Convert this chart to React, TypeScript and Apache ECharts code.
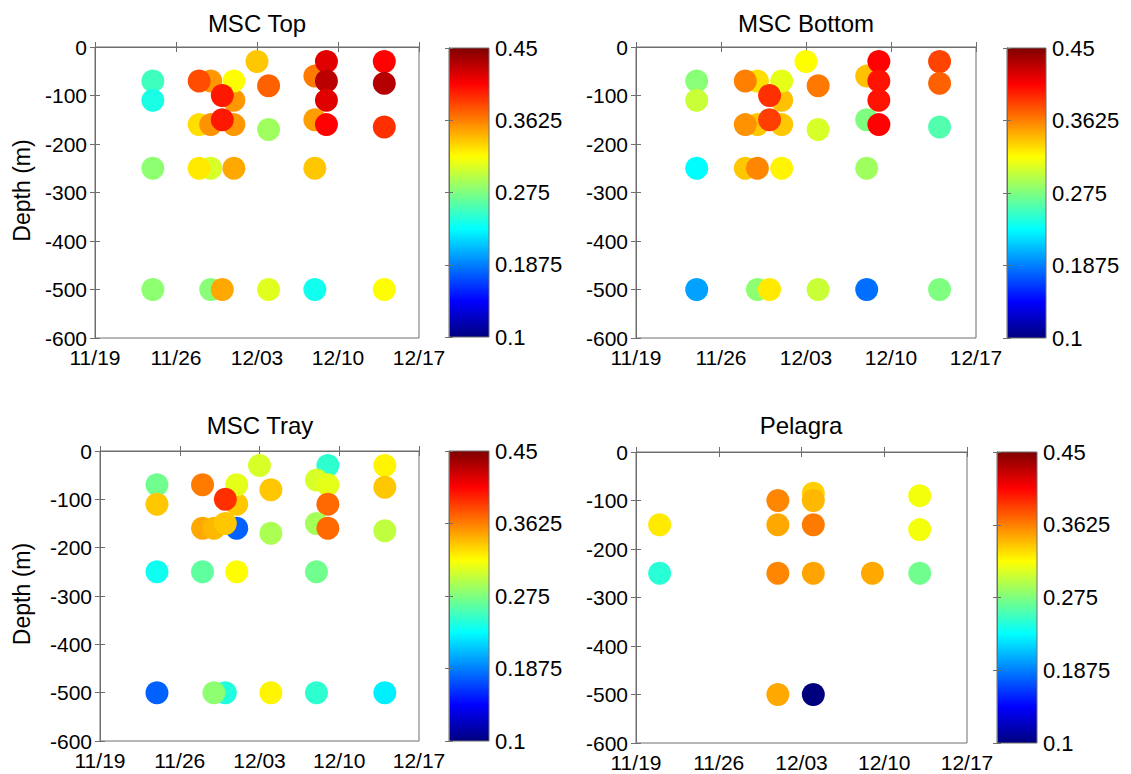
import React, { useEffect, useRef } from 'react';
import * as echarts from 'echarts';

// ---------- data ----------
const xTickLabels = ['11/19', '11/26', '12/03', '12/10', '12/17'];
const cbTickLabels = ['0.1', '0.1875', '0.275', '0.3625', '0.45'];
const panelTitles = ['MSC Top', 'MSC Bottom', 'MSC Tray', 'Pelagra'];
const yAxisName = 'Depth (m)';
const colorMin = 0.1;
const colorMax = 0.45;

const topDates = ['11/24', '11/24', '11/24', '11/24', '11/29', '11/28', '12/01', '12/01', '11/30', '11/28', '11/29', '12/01', '11/30', '11/29', '11/28', '12/01', '11/29', '11/30', '12/03', '12/04', '12/04', '12/04', '12/08', '12/09', '12/09', '12/09', '12/08', '12/09', '12/08', '12/08', '12/14', '12/14', '12/14', '12/14'];
const topDepths = [-70, -110, -250, -500, -70, -70, -110, -70, -100, -160, -160, -160, -150, -250, -250, -250, -500, -500, -30, -80, -170, -500, -60, -30, -70, -110, -150, -160, -250, -500, -30, -75, -165, -500];
const topValues = [0.253, 0.24, 0.28, 0.28, 0.354, 0.38, 0.354, 0.319, 0.398, 0.33, 0.356, 0.354, 0.398, 0.305, 0.326, 0.348, 0.278, 0.348, 0.338, 0.373, 0.286, 0.308, 0.364, 0.417, 0.43, 0.417, 0.352, 0.406, 0.338, 0.237, 0.406, 0.432, 0.39, 0.319];

const bottomDates = ['11/24', '11/24', '11/24', '11/24', '11/29', '11/28', '12/01', '12/01', '11/30', '11/29', '11/28', '12/01', '11/30', '11/28', '11/29', '12/01', '11/29', '11/30', '12/03', '12/04', '12/04', '12/04', '12/08', '12/08', '12/08', '12/08', '12/09', '12/09', '12/09', '12/09', '12/14', '12/14', '12/14', '12/14'];
const bottomDepths = [-70, -110, -250, -500, -70, -70, -110, -70, -100, -160, -160, -160, -150, -250, -250, -250, -500, -500, -30, -80, -170, -500, -60, -150, -250, -500, -30, -70, -110, -160, -30, -75, -165, -500];
const bottomValues = [0.278, 0.3, 0.231, 0.199, 0.33, 0.362, 0.34, 0.31, 0.39, 0.338, 0.356, 0.338, 0.385, 0.338, 0.36, 0.322, 0.28, 0.326, 0.319, 0.365, 0.305, 0.3, 0.34, 0.275, 0.286, 0.182, 0.406, 0.4, 0.4, 0.406, 0.383, 0.373, 0.259, 0.275];

const trayDates = ['11/24', '11/24', '11/24', '11/24', '11/28', '12/01', '12/01', '11/30', '12/01', '11/28', '11/29', '11/30', '11/28', '12/01', '11/30', '11/29', '12/03', '12/04', '12/04', '12/04', '12/09', '12/08', '12/09', '12/09', '12/08', '12/09', '12/08', '12/08', '12/14', '12/14', '12/14', '12/14'];
const trayDepths = [-70, -110, -250, -500, -70, -110, -70, -100, -160, -160, -160, -150, -250, -250, -500, -500, -30, -80, -170, -500, -30, -60, -70, -110, -150, -160, -250, -500, -30, -75, -165, -500];
const trayValues = [0.27, 0.338, 0.236, 0.177, 0.364, 0.338, 0.31, 0.39, 0.177, 0.348, 0.343, 0.338, 0.264, 0.319, 0.242, 0.28, 0.305, 0.338, 0.29, 0.322, 0.247, 0.305, 0.31, 0.37, 0.288, 0.37, 0.27, 0.247, 0.322, 0.338, 0.297, 0.226];

const pelagraDates = ['11/21', '11/21', '12/01', '12/01', '12/01', '12/01', '12/04', '12/04', '12/04', '12/04', '12/04', '12/09', '12/13', '12/13', '12/13'];
const pelagraDepths = [-150, -250, -100, -150, -250, -500, -85, -100, -150, -250, -500, -250, -90, -160, -250];
const pelagraValues = [0.326, 0.245, 0.36, 0.348, 0.36, 0.348, 0.335, 0.343, 0.364, 0.35, 0.1, 0.348, 0.315, 0.315, 0.27];

// jet colormap control points (evenly spaced)
const jetColors = ['#00007F', '#0000FF', '#007FFF', '#00FFFF', '#7FFF7F', '#FFFF00', '#FF7F00', '#FF0000', '#7F0000'];

// ---------- helpers ----------
function dayOffset(d: string): number {
  const [m, dd] = d.split('/').map(Number);
  return m === 11 ? dd - 19 : 11 + dd;
}

function buildData(dates: string[], depths: number[], values: number[]) {
  return dates.map((d, i) => [dayOffset(d), depths[i], values[i]]);
}

const FONT = 'Liberation Sans, Arial, Helvetica, sans-serif';
const AX = '#6e6e6e';
const TXT = '#000000';

const layout = [
  { grid: { left: 95, top: 47, width: 324, height: 291 }, cb: { left: 449, top: 48, width: 40, height: 289 }, title: [257, 23] },
  { grid: { left: 636, top: 47, width: 340, height: 291 }, cb: { left: 1007, top: 48, width: 39, height: 290 }, title: [806, 23] },
  { grid: { left: 100, top: 451, width: 319, height: 290 }, cb: { left: 449, top: 451, width: 40, height: 290 }, title: [260, 425] },
  { grid: { left: 636, top: 452, width: 331, height: 291 }, cb: { left: 997, top: 452, width: 40, height: 291 }, title: [801, 425] },
];

const App: React.FC = () => {
  const ref = useRef<HTMLDivElement>(null);

  useEffect(() => {
    if (!ref.current) return;
    const chart = echarts.init(ref.current, undefined, { renderer: 'svg' });

    const datasets = [
      buildData(topDates, topDepths, topValues),
      buildData(bottomDates, bottomDepths, bottomValues),
      buildData(trayDates, trayDepths, trayValues),
      buildData(pelagraDates, pelagraDepths, pelagraValues),
    ];

    const grids: any[] = [];
    const xAxes: any[] = [];
    const yAxes: any[] = [];
    const series: any[] = [];
    const graphics: any[] = [];

    const tick = { show: true, inside: true, length: 5, lineStyle: { color: AX, width: 1 } };
    const line = { show: true, lineStyle: { color: AX, width: 1 } };

    const gradStops = jetColors.map((c, i) => ({ offset: i / (jetColors.length - 1), color: c }));

    layout.forEach((L, i) => {
      grids.push({ ...L.grid, show: true, borderColor: AX, borderWidth: 1, backgroundColor: '#fff', containLabel: false, outerBoundsMode: 'none' });
      grids.push({
        ...L.cb, show: true, borderColor: AX, borderWidth: 1, containLabel: false, outerBoundsMode: 'none',
        backgroundColor: new echarts.graphic.LinearGradient(0, 1, 0, 0, gradStops),
      });
      const gMain = 2 * i;
      const gCb = 2 * i + 1;

      xAxes.push({
        type: 'value', gridIndex: gMain, position: 'bottom', min: 0, max: 28, interval: 7,
        axisLine: line, axisTick: tick, splitLine: { show: false },
        axisLabel: { show: true, fontSize: 21, lineHeight: 22, fontFamily: FONT, color: TXT, margin: 8, formatter: (v: number) => xTickLabels[Math.round(v / 7)] ?? '' },
      });
      xAxes.push({
        type: 'value', gridIndex: gMain, position: 'top', min: 0, max: 28, interval: 7,
        axisLine: line, axisTick: tick, splitLine: { show: false }, axisLabel: { show: false },
      });
      xAxes.push({
        type: 'value', gridIndex: gCb, min: 0, max: 1, show: false,
      });

      yAxes.push({
        type: 'value', gridIndex: gMain, position: 'left', min: -600, max: 0, interval: 100,
        axisLine: line, axisTick: tick, splitLine: { show: false },
        axisLabel: { show: true, fontSize: 21, lineHeight: 16, fontFamily: FONT, color: TXT, margin: 8 },
      });
      yAxes.push({
        type: 'value', gridIndex: gMain, position: 'right', min: -600, max: 0, interval: 100,
        axisLine: line, axisTick: tick, splitLine: { show: false }, axisLabel: { show: false },
      });
      yAxes.push({
        type: 'value', gridIndex: gCb, position: 'right', min: 0, max: 4, interval: 1,
        axisLine: line, axisTick: { ...tick, length: 4 }, splitLine: { show: false },
        axisLabel: { show: true, fontSize: 22, fontFamily: FONT, color: TXT, margin: 6, formatter: (v: number) => cbTickLabels[Math.round(v)] ?? '' },
      });
      yAxes.push({
        type: 'value', gridIndex: gCb, position: 'left', min: 0, max: 4, interval: 1,
        axisLine: line, axisTick: { ...tick, length: 4 }, splitLine: { show: false }, axisLabel: { show: false },
      });

      series.push({
        type: 'scatter', name: panelTitles[i], xAxisIndex: 3 * i, yAxisIndex: 4 * i,
        data: datasets[i], symbol: 'circle', symbolSize: 23,
        itemStyle: { opacity: 1, borderWidth: 0 },
        emphasis: { disabled: true },
      });

      graphics.push({
        type: 'text', x: L.title[0], y: L.title[1],
        style: { text: panelTitles[i], fontSize: 24, fontFamily: FONT, fill: TXT, align: 'center', verticalAlign: 'middle', textAlign: 'center', textVerticalAlign: 'middle' },
      });
      if (i % 2 === 0) {
        graphics.push({
          type: 'text', x: 22, y: L.grid.top + L.grid.height / 2 - 2, rotation: Math.PI / 2,
          style: { text: yAxisName, fontSize: 23, fontFamily: FONT, fill: TXT, align: 'center', verticalAlign: 'middle', textAlign: 'center', textVerticalAlign: 'middle' },
        });
      }
    });

    chart.setOption({
      animation: false,
      backgroundColor: '#ffffff',
      textStyle: { fontFamily: FONT },
      grid: grids,
      xAxis: xAxes,
      yAxis: yAxes,
      visualMap: [{
        type: 'continuous', show: false, min: colorMin, max: colorMax, dimension: 2,
        seriesIndex: [0, 1, 2, 3], inRange: { color: jetColors },
      }],
      series,
      graphic: graphics,
    });

    return () => chart.dispose();
  }, []);

  return <div ref={ref} style={{ position: 'absolute', left: 0, top: 0, width: 1131, height: 774 }} />;
};

export default App;
